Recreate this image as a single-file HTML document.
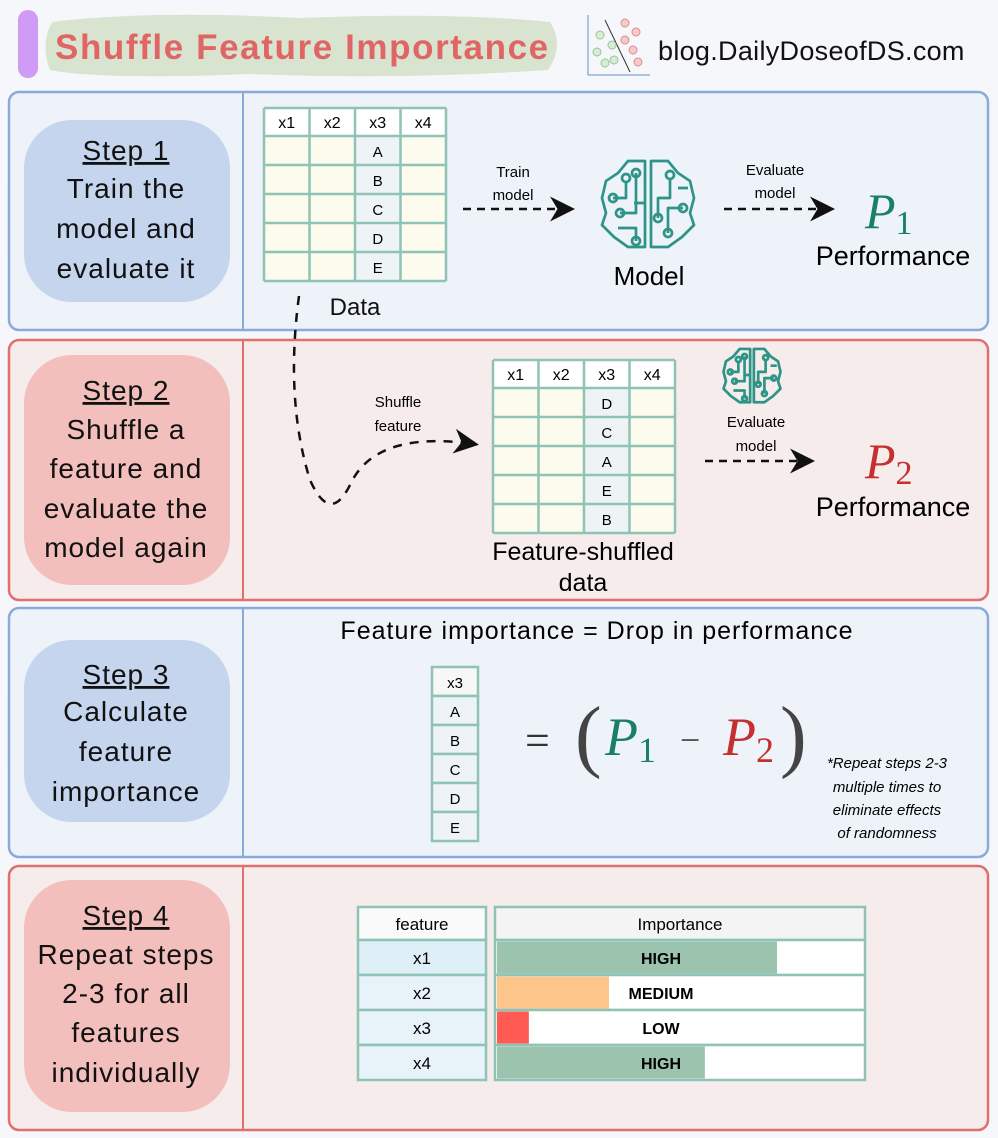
<!DOCTYPE html>
<html><head><meta charset="utf-8"><style>
html,body{margin:0;padding:0;background:#f6f7fb;}
svg{display:block;font-family:"Liberation Sans",sans-serif;}
</style></head><body>
<svg id="s" width="998" height="1138" viewBox="0 0 998 1138" xmlns="http://www.w3.org/2000/svg">
<defs>
<marker id="ah" markerWidth="10" markerHeight="10" refX="8" refY="5" orient="auto"><path d="M0,0 L10,5 L0,10 L3,5 Z" fill="#111"/></marker>
</defs>
<rect width="998" height="1138" fill="#f6f7fb"/>
<g>
<rect x="18" y="10" width="20" height="68" rx="10" fill="#cf9bf5"/>
<path d="M52,22 Q150,10 300,18 Q450,12 550,22 Q565,45 548,70 Q400,80 250,74 Q100,80 50,70 Q40,45 52,22 Z" fill="#d8e4cf"/>
<text x="55" y="59" font-size="35" font-weight="bold" letter-spacing="1.6" fill="#e06666">Shuffle Feature Importance</text>
<g stroke-width="1">
<path d="M588,15 L588,75 L650,75" fill="none" stroke="#6a8ccf"/>
<line x1="605" y1="20" x2="630" y2="72" stroke="#333"/>
<circle cx="600" cy="35" r="4" fill="#d5ecd5" stroke="#9ac59a"/><circle cx="597" cy="52" r="4" fill="#d5ecd5" stroke="#9ac59a"/><circle cx="605" cy="63" r="4" fill="#d5ecd5" stroke="#9ac59a"/><circle cx="612" cy="45" r="4" fill="#d5ecd5" stroke="#9ac59a"/><circle cx="614" cy="60" r="4" fill="#d5ecd5" stroke="#9ac59a"/>
<circle cx="625" cy="23" r="4" fill="#f7caca" stroke="#e08b8b"/><circle cx="636" cy="32" r="4" fill="#f7caca" stroke="#e08b8b"/><circle cx="625" cy="40" r="4" fill="#f7caca" stroke="#e08b8b"/><circle cx="633" cy="50" r="4" fill="#f7caca" stroke="#e08b8b"/><circle cx="638" cy="62" r="4" fill="#f7caca" stroke="#e08b8b"/>
</g>
<text x="658" y="60" font-size="27" letter-spacing="0.3" fill="#111">blog.DailyDoseofDS.com</text>
</g>

<g id="panels"></g>

<g id="t1"></g>
<text x="355" y="315" font-size="24" text-anchor="middle" fill="#111">Data</text>
<text x="513" y="177" font-size="15" text-anchor="middle">Train</text>
<text x="513" y="200" font-size="15" text-anchor="middle">model</text>
<line x1="463" y1="209" x2="570" y2="209" stroke="#111" stroke-width="2.5" stroke-dasharray="8,6" marker-end="url(#ah)"/>
<g id="brain1"></g>
<text x="649" y="285" font-size="26" text-anchor="middle">Model</text>
<text x="775" y="175" font-size="15" text-anchor="middle">Evaluate</text>
<text x="775" y="198" font-size="15" text-anchor="middle">model</text>
<line x1="724" y1="209" x2="830" y2="209" stroke="#111" stroke-width="2.5" stroke-dasharray="8,6" marker-end="url(#ah)"/>
<text x="865" y="228" font-family="Liberation Serif,serif" font-style="italic" font-size="50" fill="#1a7f6a">P<tspan font-style="normal" font-size="34" dy="6">1</tspan></text>
<text x="893" y="265" font-size="27" text-anchor="middle">Performance</text>

<path d="M299,296 Q285,400 310,480 Q330,525 350,485 Q375,430 474,444" fill="none" stroke="#111" stroke-width="2.5" stroke-dasharray="9,8" marker-end="url(#ah)"/>
<text x="398" y="407" font-size="15" text-anchor="middle">Shuffle</text>
<text x="398" y="431" font-size="15" text-anchor="middle">feature</text>
<g id="t2"></g>
<text x="583" y="560" font-size="25" text-anchor="middle">Feature-shuffled</text>
<text x="583" y="591" font-size="25" text-anchor="middle">data</text>
<g id="brain2"></g>
<text x="756" y="427" font-size="15" text-anchor="middle">Evaluate</text>
<text x="756" y="451" font-size="15" text-anchor="middle">model</text>
<line x1="705" y1="461" x2="810" y2="461" stroke="#111" stroke-width="2.5" stroke-dasharray="8,6" marker-end="url(#ah)"/>
<text x="865" y="478" font-family="Liberation Serif,serif" font-style="italic" font-size="50" fill="#c62f2f">P<tspan font-style="normal" font-size="34" dy="6">2</tspan></text>
<text x="893" y="516" font-size="27" text-anchor="middle">Performance</text>

<text x="597" y="639" font-size="25" letter-spacing="1" text-anchor="middle">Feature importance = Drop in performance</text>
<g id="t3"></g>
<g font-family="Liberation Serif,serif" fill="#333">
<text x="525" y="755" font-size="44">=</text>
<text x="575" y="762" font-size="80" fill="#444">(</text>
<text x="605" y="755" font-size="54" font-style="italic" fill="#1a7f6a">P<tspan font-style="normal" font-size="36" dy="7">1</tspan></text>
<text x="680" y="752" font-size="36" fill="#555">−</text>
<text x="723" y="755" font-size="54" font-style="italic" fill="#c62f2f">P<tspan font-style="normal" font-size="36" dy="7">2</tspan></text>
<text x="780" y="762" font-size="80" fill="#444">)</text>
</g>
<g font-size="15" font-style="italic" text-anchor="middle">
<text x="887" y="768">*Repeat steps 2-3</text>
<text x="887" y="792">multiple times to</text>
<text x="887" y="815">eliminate effects</text>
<text x="887" y="838">of randomness</text>
</g>

<g id="t4"></g>

<script>
const stepTitles = ["Step 1","Step 2","Step 3","Step 4"];
const stepLines = [["Train the","model and","evaluate it"],["Shuffle a","feature and","evaluate the","model again"],["Calculate","feature","importance"],["Repeat steps","2-3 for all","features","individually"]];
const columns = ["x1","x2","x3","x4"];
const originalX3 = ["A","B","C","D","E"];
const shuffledX3 = ["D","C","A","E","B"];
const features = ["x1","x2","x3","x4"];
const importanceValues = [0.765, 0.306, 0.087, 0.568];
const importanceLabels = ["HIGH","MEDIUM","LOW","HIGH"];
const importanceColors = ["#9cc3ad","#fdc589","#ff5b52","#9cc3ad"];

const NS="http://www.w3.org/2000/svg";
function mk(tag,attrs,parent,txt){const e=document.createElementNS(NS,tag);for(const k in attrs)e.setAttribute(k,attrs[k]);if(txt!==undefined)e.textContent=txt;parent.appendChild(e);return e;}

const panels=[{y:92,h:238,c:"#8aaadc",f:"#eef2f9",p:"#c5d5ee",py:120,ph:182,ty:[160,198,238,278]},
{y:340,h:260,c:"#e07070",f:"#f5eceb",p:"#f3bfbd",py:355,ph:230,ty:[400,439,478,518,557]},
{y:608,h:249,c:"#8aaadc",f:"#eef2f9",p:"#c5d5ee",py:640,ph:182,ty:[684,721,761,801]},
{y:866,h:264,c:"#e07070",f:"#f5eceb",p:"#f3bfbd",py:880,ph:232,ty:[925,964,1003,1042,1082]}];
const pg=document.getElementById('panels');
panels.forEach((p,i)=>{
  const g=mk('g',{},pg);
  
  
  mk('rect',{x:9,y:p.y,width:979,height:p.h,rx:10,fill:p.f,stroke:p.c,'stroke-width':2.5},g);
  mk('line',{x1:243,y1:p.y,x2:243,y2:p.y+p.h,stroke:p.c,'stroke-width':2},g);
  const pill=mk('rect',{x:24,y:p.py,width:206,height:p.ph,rx:48,fill:p.p},g);
  
  
  const t=mk('text',{x:126,y:p.ty[0],'font-size':28,'letter-spacing':1,'text-anchor':'middle','text-decoration':'underline',fill:'#111'},g,stepTitles[i]);
  
  
  stepLines[i].forEach((l,j)=>{
    const tt=mk('text',{x:126,y:p.ty[j+1],'font-size':28,'letter-spacing':1,'text-anchor':'middle',fill:'#111'},g,l);
    
    
  });
});

function dataTable(gid,x0,y0,vals,name){
  const g=document.getElementById(gid);
  
  
  const cw=45.5, hh=28, rh=29;
  mk('rect',{x:x0,y:y0,width:cw*4,height:hh+rh*5,fill:'#fdfaee'},g);
  mk('rect',{x:x0,y:y0,width:cw*4,height:hh,fill:'#ffffff'},g);
  mk('rect',{x:x0+cw*2,y:y0+hh,width:cw,height:rh*5,fill:'#eef3f5'},g);
  columns.forEach((c,i)=>{const t=mk('text',{x:x0+cw*i+cw/2,y:y0+20,'font-size':16,'text-anchor':'middle'},g,c);
    
    });
  vals.forEach((v,r)=>{const t=mk('text',{x:x0+cw*2.5,y:y0+hh+rh*r+21,'font-size':15,'text-anchor':'middle'},g,v);
    
    });
  for(let i=0;i<=4;i++)mk('line',{x1:x0+cw*i,y1:y0,x2:x0+cw*i,y2:y0+hh+rh*5,stroke:'#8ec3b5','stroke-width':2.5},g);
  for(let r=0;r<=5;r++){const y=r==0?y0:y0+hh+rh*(r-1);mk('line',{x1:x0,y1:y,x2:x0+cw*4,y2:y,stroke:'#8ec3b5','stroke-width':2.5},g);}
  mk('line',{x1:x0,y1:y0+hh+rh*5,x2:x0+cw*4,y2:y0+hh+rh*5,stroke:'#8ec3b5','stroke-width':2.5},g);
}
dataTable('t1',264,108,originalX3,'data-table');
dataTable('t2',493,360,shuffledX3,'shuffled-data-table');

(function(){
  const g=document.getElementById('t3');
  
  
  const x0=432,y0=667,w=46,rh=29;
  const rows=["x3"].concat(originalX3);
  rows.forEach((v,i)=>{
    mk('rect',{x:x0,y:y0+rh*i,width:w,height:rh,fill:i==0?'#f7f7f7':'#eef3f8',stroke:'#8ec3b5','stroke-width':2.5},g);
    const t=mk('text',{x:x0+w/2,y:y0+rh*i+21,'font-size':15,'text-anchor':'middle'},g,v);
    
    
  });
})();

function brain(gid,cx,cy,s){
  const g=document.getElementById(gid);
  const tr=mk('g',{transform:`translate(${cx},${cy}) scale(${s})`,fill:'none',stroke:'#2f9488','stroke-width':3/s*0.9,'stroke-linejoin':'round'},g);
  mk('path',{d:'M-3,-42 L-20,-42 L-30,-30 L-42,-22 L-46,-5 L-42,10 L-46,22 L-34,34 L-20,44 L-3,44 Z'},tr);
  mk('path',{d:'M3,-42 L20,-42 L30,-30 L42,-22 L46,-5 L42,10 L46,22 L34,34 L20,44 L3,44 Z'},tr);
  mk('path',{d:'M-22,-22 L-22,-5 L-35,-5 M-12,-30 L-12,10 L-28,10 M-30,25 L-12,25 L-12,38 M22,-25 L22,-5 L10,-5 L10,15 M35,5 L20,5 L20,30 M30,-15 L40,-15 M-3,0 L-14,0'},tr);
  [[-22,-25],[-35,-5],[-28,10],[-12,38],[22,-28],[10,15],[20,30],[-12,-30],[35,5]].forEach(p=>mk('circle',{cx:p[0],cy:p[1],r:4},tr));
}
brain('brain1',648,203,1.0);
brain('brain2',752,375,0.62);

const xScale=v=>497+v*(863-497);
(function(){
  const g=document.getElementById('t4');
  
  
  const y0=907,hh=33,rh=35;
  mk('rect',{x:358,y:y0,width:128,height:hh,fill:'#fafafa',stroke:'#8ec3b5','stroke-width':2.5},g);
  const fh=mk('text',{x:422,y:y0+23,'font-size':17,'text-anchor':'middle'},g,'feature');
  
  
  mk('rect',{x:495,y:y0,width:370,height:hh,fill:'#f4f4f4',stroke:'#8ec3b5','stroke-width':2.5},g);
  const ih=mk('text',{x:680,y:y0+23,'font-size':17,'text-anchor':'middle'},g,'Importance');
  
  
  features.forEach((f,i)=>{
    const y=y0+hh+rh*i;
    mk('rect',{x:358,y:y,width:128,height:rh,fill:i==0?'#dfeff7':'#e8f3f9',stroke:'#8ec3b5','stroke-width':2.5},g);
    const ft=mk('text',{x:422,y:y+24,'font-size':17,'text-anchor':'middle'},g,f);
    
    
    mk('rect',{x:495,y:y,width:370,height:rh,fill:'#ffffff',stroke:'#8ec3b5','stroke-width':2.5},g);
    const b=mk('rect',{x:497,y:y+1.5,width:xScale(importanceValues[i])-497,height:rh-3,fill:importanceColors[i]},g);
    
    
    const lt=mk('text',{x:661,y:y+24,'font-size':16,'font-weight':'bold','text-anchor':'middle'},g,importanceLabels[i]);
    
    
  });
})();
</script>
</svg>
</body></html>
